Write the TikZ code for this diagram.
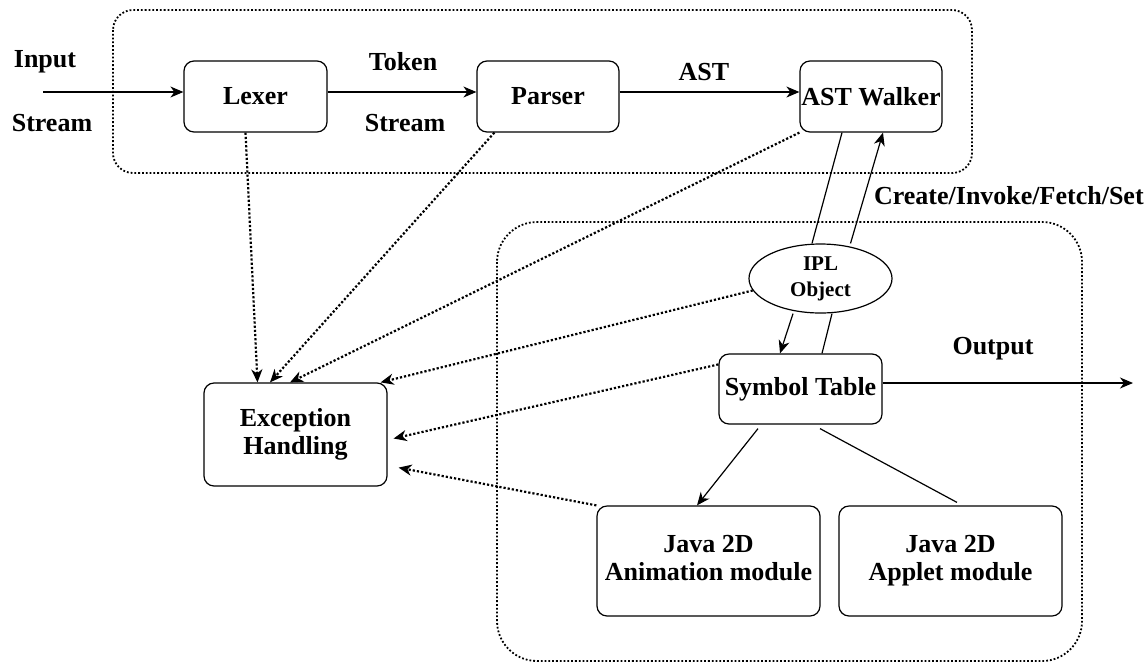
\documentclass[tikz,border=0pt]{standalone}
\usepackage{fontspec}
\setmainfont{Liberation Serif}
\usetikzlibrary{arrows.meta,shapes.geometric}

\begin{document}
\begin{tikzpicture}[x=0.5pt,y=-0.5pt,>={Stealth[length=6.5pt,width=5.5pt,inset=2pt]},
  font=\fontsize{13}{14}\selectfont\bfseries,
  box/.style={draw,rounded corners=5pt,line width=0.6pt,inner sep=0pt,align=center},
  grp/.style={draw,densely dotted,line width=0.9pt},
  err/.style={->,densely dotted,line width=1.1pt},
  lnk/.style={line width=0.6pt}]
  \useasboundingbox (0,0) rectangle (1145,665);
  % the two dotted groups
  \draw[grp,rounded corners=10pt] (113,10) rectangle (972,173);
  \draw[grp,rounded corners=20pt] (497,222) rectangle (1082,661);
  % front end
  \node[box,minimum width=71.5pt,minimum height=35.5pt] (lexer) at (255.5,96.5) {Lexer};
  \node[box,minimum width=71pt,minimum height=35.5pt] (parser) at (548,96.5) {Parser};
  \node[box,minimum width=71pt,minimum height=35.5pt] (walker) at (871,96.5) {AST Walker};
  \node (inlbl) at (45,62) {Input}; \node (instream) at (52,123) {Stream};
  \node (toklbl) at (403,62) {Token}; \node (tokstream) at (405,123) {Stream};
  \node (astlbl) at (704,72) {AST};
  % back end
  \node[draw,ellipse,line width=0.6pt,inner sep=0pt,minimum width=71.5pt,minimum height=34.5pt,
        align=center,font=\fontsize{10.5}{13}\selectfont\bfseries] (ipl) at (820.5,278.5) {IPL\\Object};
  \node[box,minimum width=81.5pt,minimum height=35pt] (symtab) at (800.5,389) {Symbol Table};
  \node[box,minimum width=91.5pt,minimum height=51.5pt] (exc) at (295.5,434.5) {Exception\\Handling};
  \node[box,minimum width=111.5pt,minimum height=55pt] (anim) at (708.5,561) {Java 2D\strut\\Animation module\strut};
  \node[box,minimum width=111.5pt,minimum height=55pt] (applet) at (950.5,561) {Java 2D\strut\\Applet module\strut};
  \node[anchor=west] (cifs) at (867,196) {Create/Invoke/Fetch/Set};
  \node (outlbl) at (993,349) {Output};
  \coordinate (src) at (43,92);
  \coordinate (sink) at (1133,383);
  % data flow
  \draw[->,lnk] (src) -- ([yshift=2.25pt]lexer.west);
  \draw[->,lnk] ([yshift=2.25pt]lexer.east) -- ([yshift=2.25pt]parser.west);
  \draw[->,lnk] ([yshift=2.25pt]parser.east) -- ([yshift=2.25pt]walker.west);
  \draw[lnk] ([xshift=-14.5pt]walker.south) -- ([xshift=-4.25pt]ipl.north);
  \draw[->,lnk] ([xshift=15pt]ipl.north) -- ([xshift=6pt]walker.south);
  \draw[->,lnk] ([xshift=-13.75pt]ipl.south) -- ([xshift=-10.25pt]symtab.north);
  \draw[lnk] ([xshift=10.75pt]symtab.north) -- ([xshift=5.75pt]ipl.south);
  \draw[->,lnk] ([yshift=3pt]symtab.east) -- (sink);
  \draw[->,lnk] ([xshift=-21.25pt,yshift=-2pt]symtab.south) -- ([xshift=-5.75pt]anim.north);
  \draw[lnk] ([xshift=9.75pt,yshift=-2pt]symtab.south) -- ([xshift=3.25pt,yshift=1.5pt]applet.north);
  % errors
  \draw[err] ([xshift=-5pt]lexer.south) -- ([xshift=-19pt]exc.north);
  \draw[err] ([xshift=9pt]parser.south west) -- ([xshift=-12.75pt]exc.north);
  \draw[err] (walker.south west) -- ([xshift=-2.75pt]exc.north);
  \draw[err] (ipl.190) -- ([xshift=-3.5pt]exc.north east);
  \draw[err] ([yshift=-5.5pt]symtab.north west) -- ([xshift=3pt,yshift=-2pt]exc.east);
  \draw[err] (anim.north west) -- ([xshift=5.5pt,yshift=9.5pt]exc.south east);
\end{tikzpicture}
\end{document}
